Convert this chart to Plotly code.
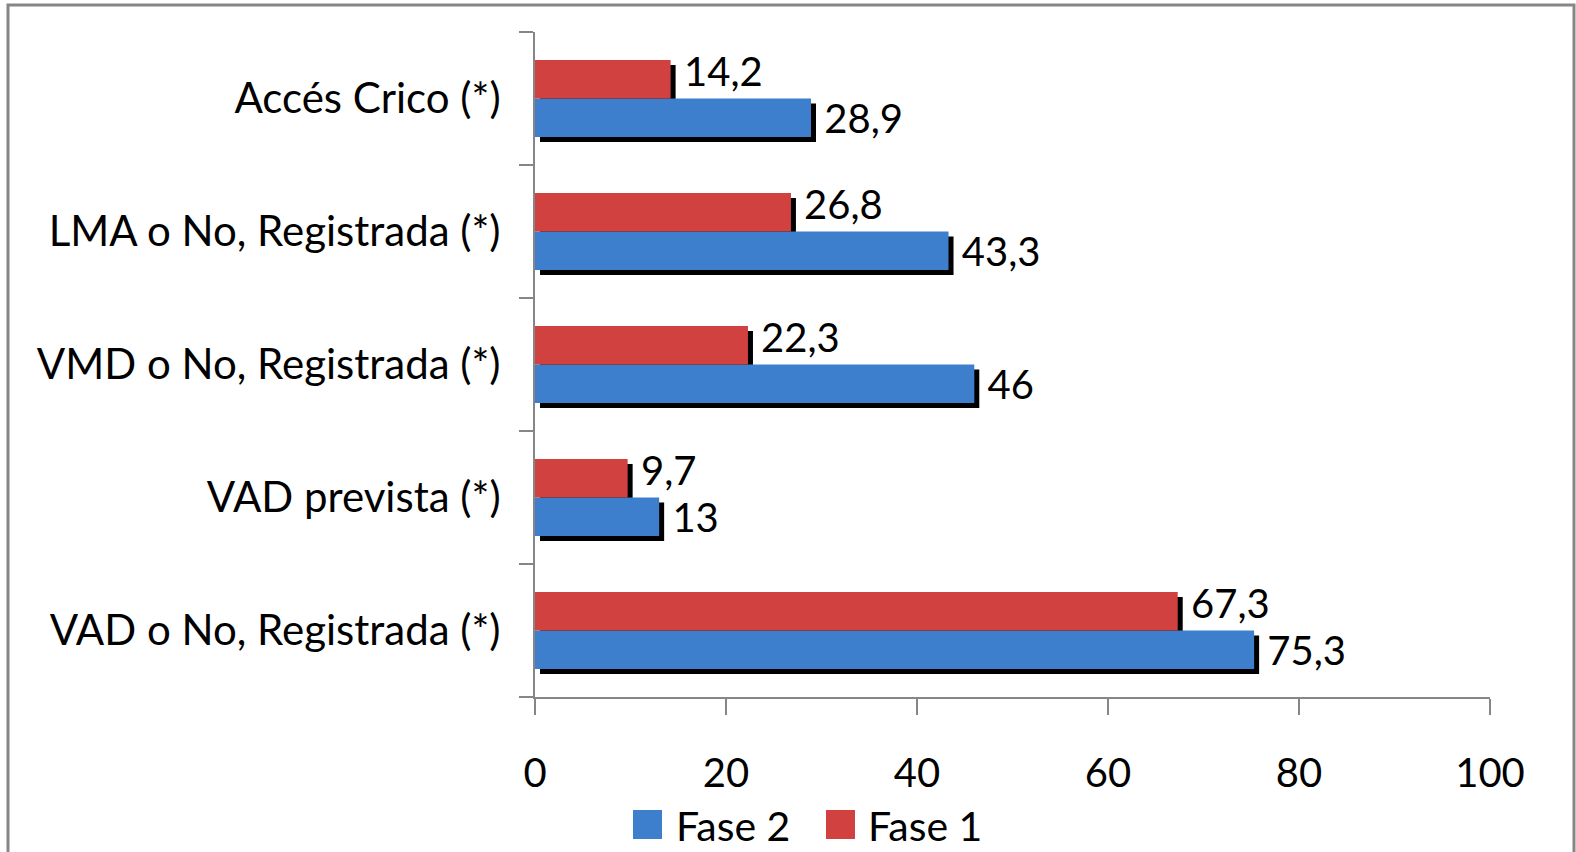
import plotly.graph_objects as go

# ---- data ----
categories = ["VAD o No, Registrada (*)", "VAD prevista (*)",
              "VMD o No, Registrada (*)", "LMA o No, Registrada (*)",
              "Accés Crico (*)"]
fase2 = [75.3, 13, 46, 43.3, 28.9]
fase1 = [67.3, 9.7, 22.3, 26.8, 14.2]
series_names = ["Fase 2", "Fase 1"]
x_ticks = [0, 20, 40, 60, 80, 100]

# ---- style ----
BLUE = "#3D7FCC"
RED = "#D0413F"
GRAY = "#868686"
FONT = "Lato"
FS = 40

W, H = 1576, 852
SH = 5  # shadow offset px
L, T = 535, 32
R = W - L - 955 - SH
B = H - T - 665 - SH
PW, PH = W - L - R, H - T - B
BARGAP = 0.42

fig = go.Figure()

# shadows (drawn on the lower subplot, shifted right/down)
for vals in (fase2, fase1):
    fig.add_trace(go.Bar(y=categories, x=vals, orientation="h",
                         marker=dict(color="black", line=dict(width=0)),
                         xaxis="x", yaxis="y", showlegend=False,
                         hoverinfo="skip"))

# real bars
fig.add_trace(go.Bar(y=categories, x=fase2, orientation="h", name=series_names[0],
                     marker=dict(color=BLUE, line=dict(width=0)),
                     texttemplate="\u00a0%{x}", textposition="outside",
                     constraintext="none", cliponaxis=False,
                     outsidetextfont=dict(family=FONT, size=FS, color="black"),
                     xaxis="x2", yaxis="y2", showlegend=False))
fig.add_trace(go.Bar(y=categories, x=fase1, orientation="h", name=series_names[1],
                     marker=dict(color=RED, line=dict(width=0)),
                     xaxis="x2", yaxis="y2", showlegend=False))

# Fase 1 value labels, lifted a little above their bars as in the original
band = (PH - SH) / len(categories)
half_bar = band * (1 - BARGAP) / 4
for cat, v in zip(categories, fase1):
    fig.add_annotation(x=v, y=cat, xref="x2", yref="y2", showarrow=False,
                       text=f"{v:g}".replace(".", ","), xanchor="left",
                       yanchor="middle", xshift=SH + 6, yshift=half_bar + 8,
                       font=dict(family=FONT, size=FS, color="black"))

def px_x(p):
    return (p - L) / PW

def px_y(p):
    return (T + PH - p) / PH

fig.update_layout(
    width=W, height=H,
    margin=dict(l=L, r=R, t=T, b=B),
    paper_bgcolor="white", plot_bgcolor="rgba(0,0,0,0)",
    barmode="group", bargap=BARGAP, bargroupgap=0,
    separators=",.",
    font=dict(family=FONT, size=FS, color="black"),
    showlegend=False,
    xaxis=dict(domain=[SH / PW, 1], range=[0, 100], visible=False,
               anchor="y"),
    yaxis=dict(domain=[0, 1 - SH / PH], type="category",
               categoryorder="array", categoryarray=categories,
               visible=False, anchor="x"),
    xaxis2=dict(domain=[0, 1 - SH / PW], range=[0, 100], anchor="y2",
                tickvals=x_ticks, ticks="outside", ticklen=16, tickwidth=2,
                tickcolor=GRAY, showline=True, linecolor=GRAY, linewidth=2,
                showgrid=False, zeroline=False, ticklabelstandoff=24,
                tickfont=dict(family=FONT, size=FS, color="black")),
    yaxis2=dict(domain=[SH / PH, 1], type="category", anchor="x2",
                categoryorder="array", categoryarray=categories,
                ticks="outside", tickson="boundaries", ticklen=14,
                tickwidth=2, tickcolor=GRAY, showline=True, linecolor=GRAY,
                linewidth=2, showgrid=False, zeroline=False,
                ticklabelstandoff=24,
                tickfont=dict(family=FONT, size=42, color="black")),
)

# chart border
fig.add_shape(type="rect", xref="paper", yref="paper",
              x0=px_x(8), x1=px_x(1574), y0=px_y(860), y1=px_y(5),
              line=dict(color=GRAY, width=3), fillcolor="rgba(0,0,0,0)",
              layer="below")

# custom legend
leg = [(series_names[0], BLUE, 633, 674), (series_names[1], RED, 826, 866)]
for name, col, sx, tx in leg:
    fig.add_shape(type="rect", xref="paper", yref="paper",
                  x0=px_x(sx), x1=px_x(sx + 29), y0=px_y(839), y1=px_y(810),
                  fillcolor=col, line=dict(width=0))
    fig.add_annotation(xref="paper", yref="paper", x=px_x(tx), y=px_y(825),
                       xanchor="left", yanchor="middle", showarrow=False,
                       text=name, font=dict(family=FONT, size=41, color="black"))

fig.write_html("out.html")
